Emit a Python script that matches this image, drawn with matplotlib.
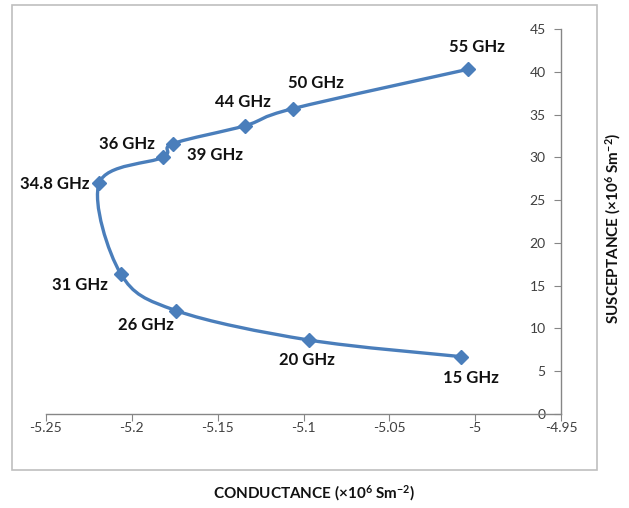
import matplotlib
matplotlib.use("Agg")
import matplotlib.pyplot as plt
from matplotlib.path import Path
from matplotlib.patches import PathPatch, Rectangle

plt.rcParams['font.family'] = ['Lato', 'DejaVu Sans']
plt.rcParams['axes.unicode_minus'] = False
plt.rcParams['mathtext.fontset'] = 'custom'
plt.rcParams['mathtext.rm'] = 'Lato:bold'
plt.rcParams['mathtext.bf'] = 'Lato:bold'
plt.rcParams['mathtext.default'] = 'bf'

freq_labels = ["15 GHz", "20 GHz", "26 GHz", "31 GHz", "34.8 GHz",
               "36 GHz", "39 GHz", "44 GHz", "50 GHz", "55 GHz"]
conductance = [-5.008, -5.097, -5.174, -5.2065, -5.219,
               -5.182, -5.176, -5.134, -5.106, -5.004]
susceptance = [6.7, 8.65, 12.07, 16.4, 27.0,
               30.0, 31.6, 33.7, 35.7, 40.3]
label_offsets = [(10, -21), (-2, -20), (-31, -14), (-41, -11), (-44, -1),
                 (-36, 13), (42, -11), (-2, 24), (23, 26), (9, 22)]
x_ticks = [-5.25, -5.2, -5.15, -5.1, -5.05, -5, -4.95]
x_tick_labels = ["-5.25", "-5.2", "-5.15", "-5.1", "-5.05", "-5", "-4.95"]
y_ticks = [0, 5, 10, 15, 20, 25, 30, 35, 40, 45]

W, H = 629, 508
fig = plt.figure(figsize=(W / 100, H / 100), dpi=100)
ax = fig.add_axes([46 / W, 1 - 414 / H, (561 - 46) / W, (414 - 29) / H])

# chart frame
fig.patches.append(Rectangle((12 / W, 1 - 470 / H), (597 - 12) / W, (470 - 5) / H,
                             transform=fig.transFigure, fill=False,
                             edgecolor='#BFBFBF', linewidth=1.2))

line_color = '#4A7EBB'
# smooth line (Catmull-Rom as cubic Bezier)
pts = list(zip(conductance, susceptance))
n = len(pts)
verts = [pts[0]]
codes = [Path.MOVETO]
for i in range(n - 1):
    p0 = pts[i - 1] if i > 0 else pts[i]
    p1 = pts[i]
    p2 = pts[i + 1]
    p3 = pts[i + 2] if i + 2 < n else pts[i + 1]
    c1 = (p1[0] + (p2[0] - p0[0]) / 6, p1[1] + (p2[1] - p0[1]) / 6)
    c2 = (p2[0] - (p3[0] - p1[0]) / 6, p2[1] - (p3[1] - p1[1]) / 6)
    verts += [c1, c2, p2]
    codes += [Path.CURVE4] * 3
ax.add_patch(PathPatch(Path(verts, codes), facecolor='none', edgecolor=line_color,
                       linewidth=2.4, capstyle='round', joinstyle='round'))
ax.plot(conductance, susceptance, linestyle='none', marker='D', markersize=7,
        color=line_color, clip_on=False, zorder=3)

for lab, x, y, off in zip(freq_labels, conductance, susceptance, label_offsets):
    ax.annotate(lab, (x, y), xytext=off, textcoords='offset pixels',
                ha='center', va='center', fontsize=12, fontweight='bold',
                color='#111111')

ax.set_xlim(-5.25, -4.95)
ax.set_ylim(0, 45)
ax.set_xticks(x_ticks)
ax.set_xticklabels(x_tick_labels)
ax.set_yticks(y_ticks)

for s in ['top', 'right']:
    ax.spines[s].set_visible(False)
ax.spines['left'].set_position(('data', -4.95))
ax.spines['bottom'].set_position(('data', 0))
for s in ['left', 'bottom']:
    ax.spines[s].set_color('#868686')
    ax.spines[s].set_linewidth(1.0)
ax.tick_params(axis='both', colors='#868686', labelcolor='#404040', labelsize=10,
               length=5, direction='out')
ax.tick_params(axis='x', pad=1)
ax.tick_params(axis='y', pad=6)
ax.patch.set_visible(False)

fig.text(314 / W, 1 - 493 / H, r"CONDUCTANCE ($\times$10$^6$ Sm$^{-2}$)",
         ha='center', va='center', fontsize=11, fontweight='bold', color='#111111')
fig.text(613 / W, 1 - 228 / H, r"SUSCEPTANCE ($\times$10$^6$ Sm$^{-2}$)",
         ha='center', va='center', rotation=90, fontsize=11, fontweight='bold',
         color='#111111')

fig.savefig("out.png", dpi=100)
